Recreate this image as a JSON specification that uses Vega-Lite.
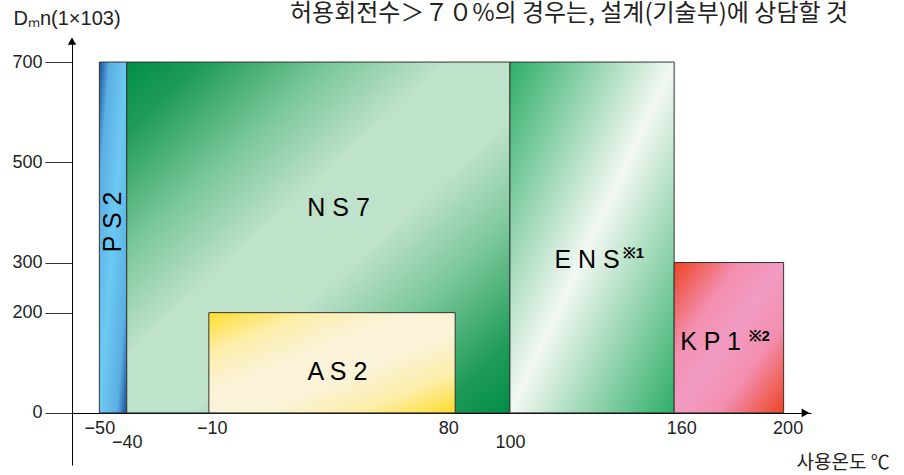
{
  "$schema": "https://vega.github.io/schema/vega-lite/v6.json",
  "width": 739,
  "height": 426,
  "autosize": {"type": "none"},
  "padding": {"left": 72, "top": 39, "right": 93, "bottom": 10},
  "background": "white",
  "config": {"view": {"stroke": null}},
  "title": {
    "text": "허용회전수＞７０%의 경우는, 설계(기술부)에 상담할 것",
    "anchor": "start",
    "frame": "group",
    "dx": 218,
    "dy": 30,
    "font": "Noto Sans CJK KR",
    "fontSize": 24,
    "fontWeight": "normal",
    "color": "#222222",
    "baseline": "middle",
    "offset": 0
  },
  "datasets": {
    "boxes": [
      {"name": "PS2", "x0": -50, "x1": -40, "y0": 0, "y1": 700},
      {"name": "NS7", "x0": -40, "x1": 100, "y0": 0, "y1": 700},
      {"name": "ENS", "x0": 100, "x1": 160, "y0": 0, "y1": 700},
      {"name": "KP1", "x0": 160, "x1": 200, "y0": 0, "y1": 300},
      {"name": "AS2", "x0": -10, "x1": 80, "y0": 0, "y1": 200}
    ],
    "labels": [
      {"text": "P S 2", "x0": -44.9, "y0": 381, "kind": "rot"},
      {"text": "N S 7", "x0": 37.4, "y0": 409, "kind": "main"},
      {"text": "A S 2", "x0": 37, "y0": 82, "kind": "main"},
      {"text": "E N S", "x0": 128.2, "y0": 306, "kind": "main"},
      {"text": "※1", "x0": 141.2, "y0": 319, "kind": "sup"},
      {"text": "K P 1", "x0": 173.3, "y0": 141.6, "kind": "main"},
      {"text": "※2", "x0": 187.2, "y0": 153.6, "kind": "sup"}
    ],
    "arrows": [
      {"axis": "y", "x0": -60, "y0": 742},
      {"axis": "x", "x0": 208, "y0": 0}
    ]
  },
  "encoding": {
    "x": {
      "field": "x0",
      "type": "quantitative",
      "scale": {"domain": [-60, 210], "nice": false, "zero": false},
      "axis": {
        "values": [-50, -40, -10, 80, 100, 160, 200],
        "title": "사용온도 ℃",
        "offset": -52,
        "ticks": false,
        "tickSize": 0,
        "labelPadding": {"condition": {"test": "datum.value == -40 || datum.value == 100", "value": 20}, "value": 6},
        "labelOffset": {"condition": [
          {"test": "datum.value == 80", "value": -7},
          {"test": "datum.value == 160", "value": 7},
          {"test": "datum.value == 200", "value": 4},
          {"test": "datum.value == -10", "value": 3}
        ], "value": 0},
        "domainColor": "#000000",
        "domainWidth": 1,
        "grid": false,
        "labelFont": "Liberation Sans",
        "labelFontSize": 18,
        "labelColor": "#222222",
        "labelFlush": false,
        "labelOverlap": false,
        "labelBound": false,
        "titleFont": "Noto Sans CJK KR",
        "titleFontSize": 19,
        "titleFontWeight": "normal",
        "titleColor": "#222222",
        "titleX": 724,
        "titleY": 49,
        "titleAlign": "left",
        "titleBaseline": "middle"
      }
    },
    "y": {
      "field": "y0",
      "type": "quantitative",
      "scale": {"domain": [-104, 746], "nice": false, "zero": false},
      "axis": {
        "values": [0, 200, 300, 500, 700],
        "title": "Dₘn(1×103)",
        "tickSize": 27,
        "tickColor": "#333333",
        "tickWidth": 1,
        "labelPadding": 3,
        "domainColor": "#000000",
        "domainWidth": 1,
        "grid": false,
        "labelFont": "Liberation Sans",
        "labelFontSize": 18,
        "labelColor": "#222222",
        "labelBaseline": "middle",
        "titleAngle": 0,
        "titleX": -59,
        "titleY": -21,
        "titleAlign": "left",
        "titleBaseline": "middle",
        "titleFont": "Liberation Sans",
        "titleFontSize": 20,
        "titleFontWeight": "normal",
        "titleColor": "#222222"
      }
    }
  },
  "layer": [
    {
      "data": {"name": "boxes"},
      "transform": [{"filter": "datum.name == 'PS2'"}],
      "mark": {
        "type": "rect",
        "stroke": "#333333",
        "strokeWidth": 1,
        "fill": {"gradient": "linear", "x1": 0, "y1": 0, "x2": 1, "y2": 1,
          "stops": [
            {"offset": 0, "color": "#1a4d9a"},
            {"offset": 0.18, "color": "#5aaee3"},
            {"offset": 0.5, "color": "#6ccaf2"},
            {"offset": 0.82, "color": "#5aaee3"},
            {"offset": 1, "color": "#1a4d9a"}
          ]}
      },
      "encoding": {"x2": {"field": "x1"}, "y2": {"field": "y1"}}
    },
    {
      "data": {"name": "boxes"},
      "transform": [{"filter": "datum.name == 'NS7'"}],
      "mark": {
        "type": "rect",
        "stroke": "#333333",
        "strokeWidth": 1,
        "fill": {"gradient": "linear", "x1": 0, "y1": 0, "x2": 1, "y2": 1,
          "stops": [
            {"offset": 0, "color": "#008d47"},
            {"offset": 0.1, "color": "#1f9b58"},
            {"offset": 0.27, "color": "#7cc89a"},
            {"offset": 0.42, "color": "#bfe2cb"},
            {"offset": 0.58, "color": "#bfe2cb"},
            {"offset": 0.73, "color": "#7cc89a"},
            {"offset": 0.9, "color": "#1f9b58"},
            {"offset": 1, "color": "#008d47"}
          ]}
      },
      "encoding": {"x2": {"field": "x1"}, "y2": {"field": "y1"}}
    },
    {
      "data": {"name": "boxes"},
      "transform": [{"filter": "datum.name == 'ENS'"}],
      "mark": {
        "type": "rect",
        "stroke": "#333333",
        "strokeWidth": 1,
        "fill": {"gradient": "linear", "x1": 0, "y1": 0, "x2": 1, "y2": 1,
          "stops": [
            {"offset": 0, "color": "#2eae66"},
            {"offset": 0.5, "color": "#f3f8f3"},
            {"offset": 1, "color": "#2eae66"}
          ]}
      },
      "encoding": {"x2": {"field": "x1"}, "y2": {"field": "y1"}}
    },
    {
      "data": {"name": "boxes"},
      "transform": [{"filter": "datum.name == 'KP1'"}],
      "mark": {
        "type": "rect",
        "stroke": "#333333",
        "strokeWidth": 1,
        "fill": {"gradient": "linear", "x1": 0, "y1": 0, "x2": 1, "y2": 1,
          "stops": [
            {"offset": 0, "color": "#ee4423"},
            {"offset": 0.3, "color": "#f38fb0"},
            {"offset": 0.5, "color": "#f39bc2"},
            {"offset": 0.7, "color": "#f38fb0"},
            {"offset": 1, "color": "#ee4423"}
          ]}
      },
      "encoding": {"x2": {"field": "x1"}, "y2": {"field": "y1"}}
    },
    {
      "data": {"name": "boxes"},
      "transform": [{"filter": "datum.name == 'AS2'"}],
      "mark": {
        "type": "rect",
        "stroke": "#333333",
        "strokeWidth": 1,
        "fill": {"gradient": "linear", "x1": 0, "y1": 0, "x2": 1, "y2": 1,
          "stops": [
            {"offset": 0, "color": "#ffdc2b"},
            {"offset": 0.2, "color": "#fdeea8"},
            {"offset": 0.4, "color": "#faf3d8"},
            {"offset": 0.6, "color": "#faf3d8"},
            {"offset": 0.8, "color": "#fdeea8"},
            {"offset": 1, "color": "#ffdc2b"}
          ]}
      },
      "encoding": {"x2": {"field": "x1"}, "y2": {"field": "y1"}}
    },
    {
      "data": {"name": "labels"},
      "transform": [{"filter": "datum.kind == 'main'"}],
      "mark": {"type": "text", "font": "Liberation Sans", "fontSize": 25, "color": "#000000", "align": "center", "baseline": "middle"},
      "encoding": {"text": {"field": "text"}}
    },
    {
      "data": {"name": "labels"},
      "transform": [{"filter": "datum.kind == 'rot'"}],
      "mark": {"type": "text", "font": "Liberation Sans", "fontSize": 25, "color": "#000000", "align": "center", "baseline": "middle", "angle": 270},
      "encoding": {"text": {"field": "text"}}
    },
    {
      "data": {"name": "labels"},
      "transform": [{"filter": "datum.kind == 'sup'"}],
      "mark": {"type": "text", "font": "Liberation Sans", "fontSize": 15, "fontWeight": "bold", "color": "#000000", "align": "left", "baseline": "middle"},
      "encoding": {"text": {"field": "text"}}
    },
    {
      "data": {"name": "arrows"},
      "transform": [{"filter": "datum.axis == 'y'"}],
      "mark": {"type": "point", "shape": "triangle-up", "size": 70, "filled": true, "color": "#000000", "opacity": 1},
      "encoding": {}
    },
    {
      "data": {"name": "arrows"},
      "transform": [{"filter": "datum.axis == 'x'"}],
      "mark": {"type": "point", "shape": "triangle-right", "size": 80, "filled": true, "color": "#000000", "opacity": 1},
      "encoding": {}
    }
  ]
}
